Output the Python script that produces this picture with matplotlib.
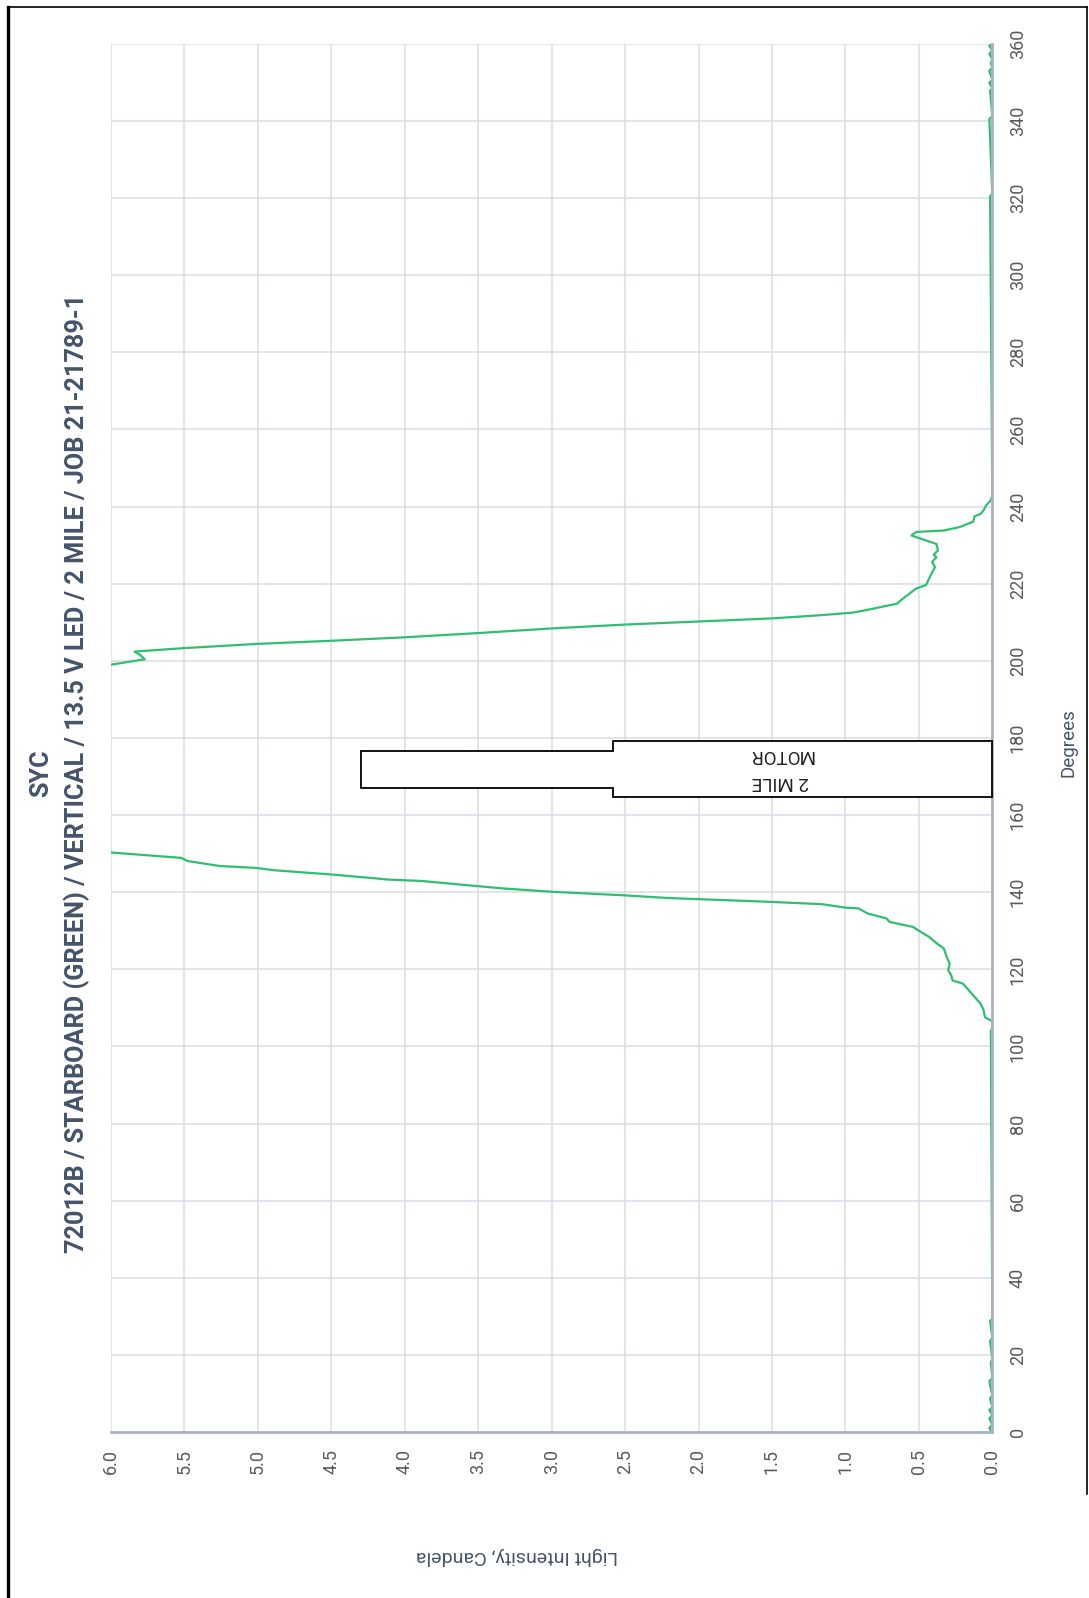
import matplotlib
matplotlib.use("Agg")
import matplotlib.pyplot as plt
from matplotlib.patches import Polygon
from matplotlib.lines import Line2D

# ---------------- data (degrees, intensity in candela) ----------------
degrees = [0, 1, 2, 3.5, 4.5, 5.7, 6.5, 8.8, 9.5, 13.2, 14, 18, 19, 23.6, 24.5,
           28.8, 29.5, 104, 104.8, 106.5,
           107.6, 109.5, 111.1, 113.7, 116.3, 117.1, 118.5, 119.7, 121.5, 123.2,
           125.4, 126.8, 128.4, 130.0, 131.0, 132.3, 133.2, 134.5, 135.8, 136.0,
           136.9, 137.5, 138.5, 139.2, 140.1, 141.0, 142.9, 143.3, 143.7, 144.6,
           145.7, 146.3, 146.8, 148.1, 148.9, 150.3, 151.5,
           197.8, 199.0, 200.4, 201.5, 202.4, 203.3, 204.4, 205.2, 206.1, 207.2,
           208.4, 209.4, 210.2, 211.0, 211.8, 212.5, 213.3, 214.8, 216.1, 218.7,
           219.7, 222.2, 224.3, 225.6, 226.9, 227.5, 228.6, 230.3, 232.5, 233.4,
           233.8, 234.7, 236.1, 237.5, 238.1, 239.0, 240.4, 241.6, 243.0,
           320.5, 321.0, 340.5, 341.2, 347.8, 348.5, 349.9, 350.6, 353.0, 353.8,
           355.0, 356.0, 357.4, 358.2, 359.5, 360.0]
intensity = [0.0, 0.02, 0.0, 0.02, 0.0, 0.02, 0.0, 0.015, 0.0, 0.02, 0.0, 0.01, 0.0, 0.015, 0.0,
             0.015, 0.0, 0.01, 0.0, 0.0,
             0.05, 0.06, 0.08, 0.14, 0.20, 0.27, 0.28, 0.30, 0.29, 0.31,
             0.33, 0.38, 0.43, 0.50, 0.54, 0.70, 0.72, 0.85, 0.91, 1.00,
             1.16, 1.51, 2.21, 2.51, 2.99, 3.34, 3.88, 4.12, 4.23, 4.50,
             4.89, 5.01, 5.26, 5.48, 5.52, 6.00, 6.40,
             6.40, 6.00, 5.77, 5.80, 5.84, 5.50, 5.00, 4.50, 4.00, 3.50,
             3.00, 2.50, 2.00, 1.50, 1.18, 0.95, 0.84, 0.65, 0.61, 0.52,
             0.45, 0.42, 0.39, 0.41, 0.38, 0.40, 0.37, 0.38, 0.55, 0.52,
             0.33, 0.22, 0.13, 0.12, 0.08, 0.06, 0.04, 0.01, 0.0,
             0.015, 0.0, 0.02, 0.0, 0.015, 0.0, 0.02, 0.0, 0.02, 0.0,
             0.01, 0.0, 0.02, 0.0, 0.02, 0.0]

intensity_ticks = [0.0, 0.5, 1.0, 1.5, 2.0, 2.5, 3.0, 3.5, 4.0, 4.5, 5.0, 5.5, 6.0]
degree_ticks = list(range(0, 361, 20))

title_line1 = "SYC"
title_line2 = "72012B / STARBOARD (GREEN) / VERTICAL / 13.5 V LED / 2 MILE / JOB 21-21789-1"
x_title = "Light Intensity, Candela"
y_title = "Degrees"
callout_text = "2 MILE\nMOTOR"

# ---------------- style ----------------
FONT = ["Roboto", "DejaVu Sans"]
TEXT_COL = "#44546A"
TICK_COL = "#595959"
GRID_COL = "#D9DEE6"
AXIS_COL = "#A9B4C2"
LINE_COL = "#2FBF6F"

fig = plt.figure(figsize=(10.89, 15.98), dpi=100)
fig.patch.set_facecolor("white")

ax = fig.add_axes([0.1019, 0.1038, 0.8093, 0.8688])
ax.plot(intensity, degrees, color=LINE_COL, lw=1.6, zorder=2, solid_joinstyle="round")

ax.set_xlim(6, 0)
ax.set_ylim(0, 360)
ax.set_xticks(intensity_ticks)
ax.set_xticklabels([f"{v:.1f}" for v in intensity_ticks], rotation=90,
                   fontsize=13, color=TICK_COL, family=FONT)
ax.set_yticks(degree_ticks)
ax.set_yticklabels([str(v) for v in degree_ticks], rotation=90, va="center",
                   fontsize=13, color=TICK_COL, family=FONT)
ax.yaxis.tick_right()
ax.tick_params(axis="x", length=0, pad=12)
ax.tick_params(axis="y", length=0, pad=12)
ax.grid(True, color=GRID_COL, lw=1.1, zorder=0)
ax.set_axisbelow(True)
for s in ["top", "left"]:
    ax.spines[s].set_visible(False)
for s in ["right", "bottom"]:
    ax.spines[s].set_color(AXIS_COL)
    ax.spines[s].set_linewidth(2.0)
    ax.spines[s].set_zorder(3)

# callout box (stepped outline) with rotated text
box = [(0, 179.3), (2.58, 179.3), (2.58, 176.7), (4.30, 176.7),
       (4.30, 166.9), (2.58, 166.9), (2.58, 164.6), (0, 164.6)]
ax.add_patch(Polygon(box, closed=True, facecolor="white", edgecolor="black",
                     lw=1.3, zorder=4, clip_on=False))
ax.text(1.44, 172.1, callout_text, rotation=180, ha="center", va="center",
        fontsize=13.5, color="#222222", family=FONT,
        linespacing=1.6, zorder=5)

# titles
fig.text(0.0374, 0.516, title_line1, rotation=90, ha="center", va="center",
         fontsize=18.2, fontweight="bold", color=TEXT_COL, family=FONT)
fig.text(0.0705, 0.516, title_line2, rotation=90, ha="center", va="center",
         fontsize=18.2, fontweight="bold", color=TEXT_COL, family=FONT)
fig.text(0.981, 0.535, y_title, rotation=90, ha="center", va="center",
         fontsize=13.5, color=TEXT_COL, family=FONT)
fig.text(0.475, 0.026, x_title, rotation=180, ha="center", va="center",
         fontsize=14, color=TEXT_COL, family=FONT)

# page border (screenshot frame)
top_y = 0.9955
lx, rx = 0.0075, 0.998
fig.add_artist(Line2D([lx, rx], [top_y, top_y], transform=fig.transFigure,
                      color="black", lw=1.2))
fig.add_artist(Line2D([lx, lx], [0.0, top_y], transform=fig.transFigure,
                      color="black", lw=2.4))
fig.add_artist(Line2D([rx, rx], [0.065, top_y], transform=fig.transFigure,
                      color="black", lw=1.2))

fig.savefig("out.png", dpi=100, facecolor="white")
